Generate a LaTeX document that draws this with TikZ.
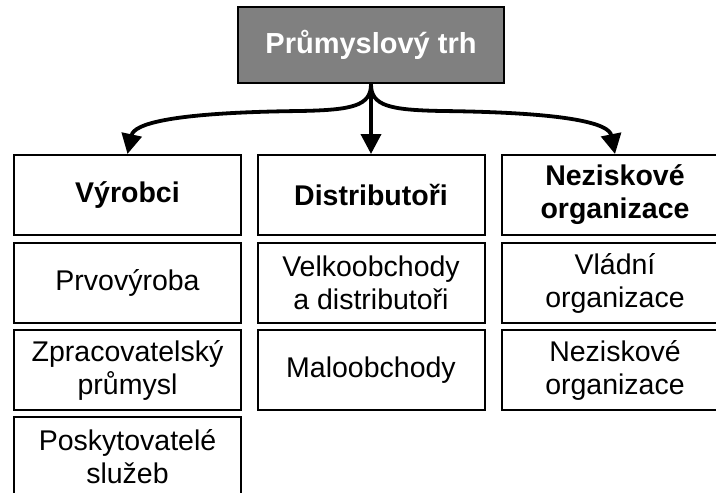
\documentclass[tikz,border=0pt]{standalone}
\usepackage{fontspec}
\setmainfont{Liberation Sans}
\usetikzlibrary{arrows.meta}
\begin{document}
\begin{tikzpicture}[x=1pt,y=-1pt,
  cell/.style={draw=black,line width=2pt,fill=white,minimum width=227pt,minimum height=80pt,
    inner sep=0pt,align=center,font=\fontsize{28.5}{33}\selectfont},
  head/.style={cell,font=\fontsize{28.5}{33}\selectfont\bfseries},
  root/.style={draw=black,line width=2.5pt,fill=black!50,text=white,minimum width=266pt,
    minimum height=76pt,inner sep=0pt,font=\fontsize{29}{33}\selectfont\bfseries},
  link/.style={line width=3.8pt,-{Triangle[length=20pt,width=20pt]}}]
\clip (0,0) rectangle (716,493);
\fill[white] (0,0) rectangle (716,493);

% root node
\node[root] (trh) at (371,45) {Průmyslový trh};

% column headers
\node[head] (vyr) at (127.5,195) {Výrobci};
\node[head] (dis) at (371,195) {Distributoři};
\node[head] (nez) at (615,195) {Neziskové\\organizace};

% first column
\node[cell] (v1) at (127.5,283) {Prvovýroba};
\node[cell] (v2) at (127.5,370) {Zpracovatelský\\průmysl};
\node[cell] (v3) at (127.5,457) {Poskytovatelé\\služeb};

% second column
\node[cell] (d1) at (371,283) {Velkoobchody\\a distributoři};
\node[cell] (d2) at (371,370) {Maloobchody};

% third column
\node[cell] (n1) at (615,283) {Vládní\\organizace};
\node[cell] (n2) at (615,370) {Neziskové\\organizace};

% bend points of the side connectors
\coordinate (lbend) at (300,111);
\coordinate (rbend) at (442,111);

% connectors
\draw[link] (trh.south) -- (dis.north);
\draw[link] (trh.south) .. controls (371,106) and (352,110) .. (lbend)
  .. controls (170,112.5) and (134,124) .. (vyr.north);
\draw[link] (trh.south) .. controls (371,106) and (390,110) .. (rbend)
  .. controls (572,112.5) and (609,124) .. (nez.north);
\end{tikzpicture}
\end{document}
